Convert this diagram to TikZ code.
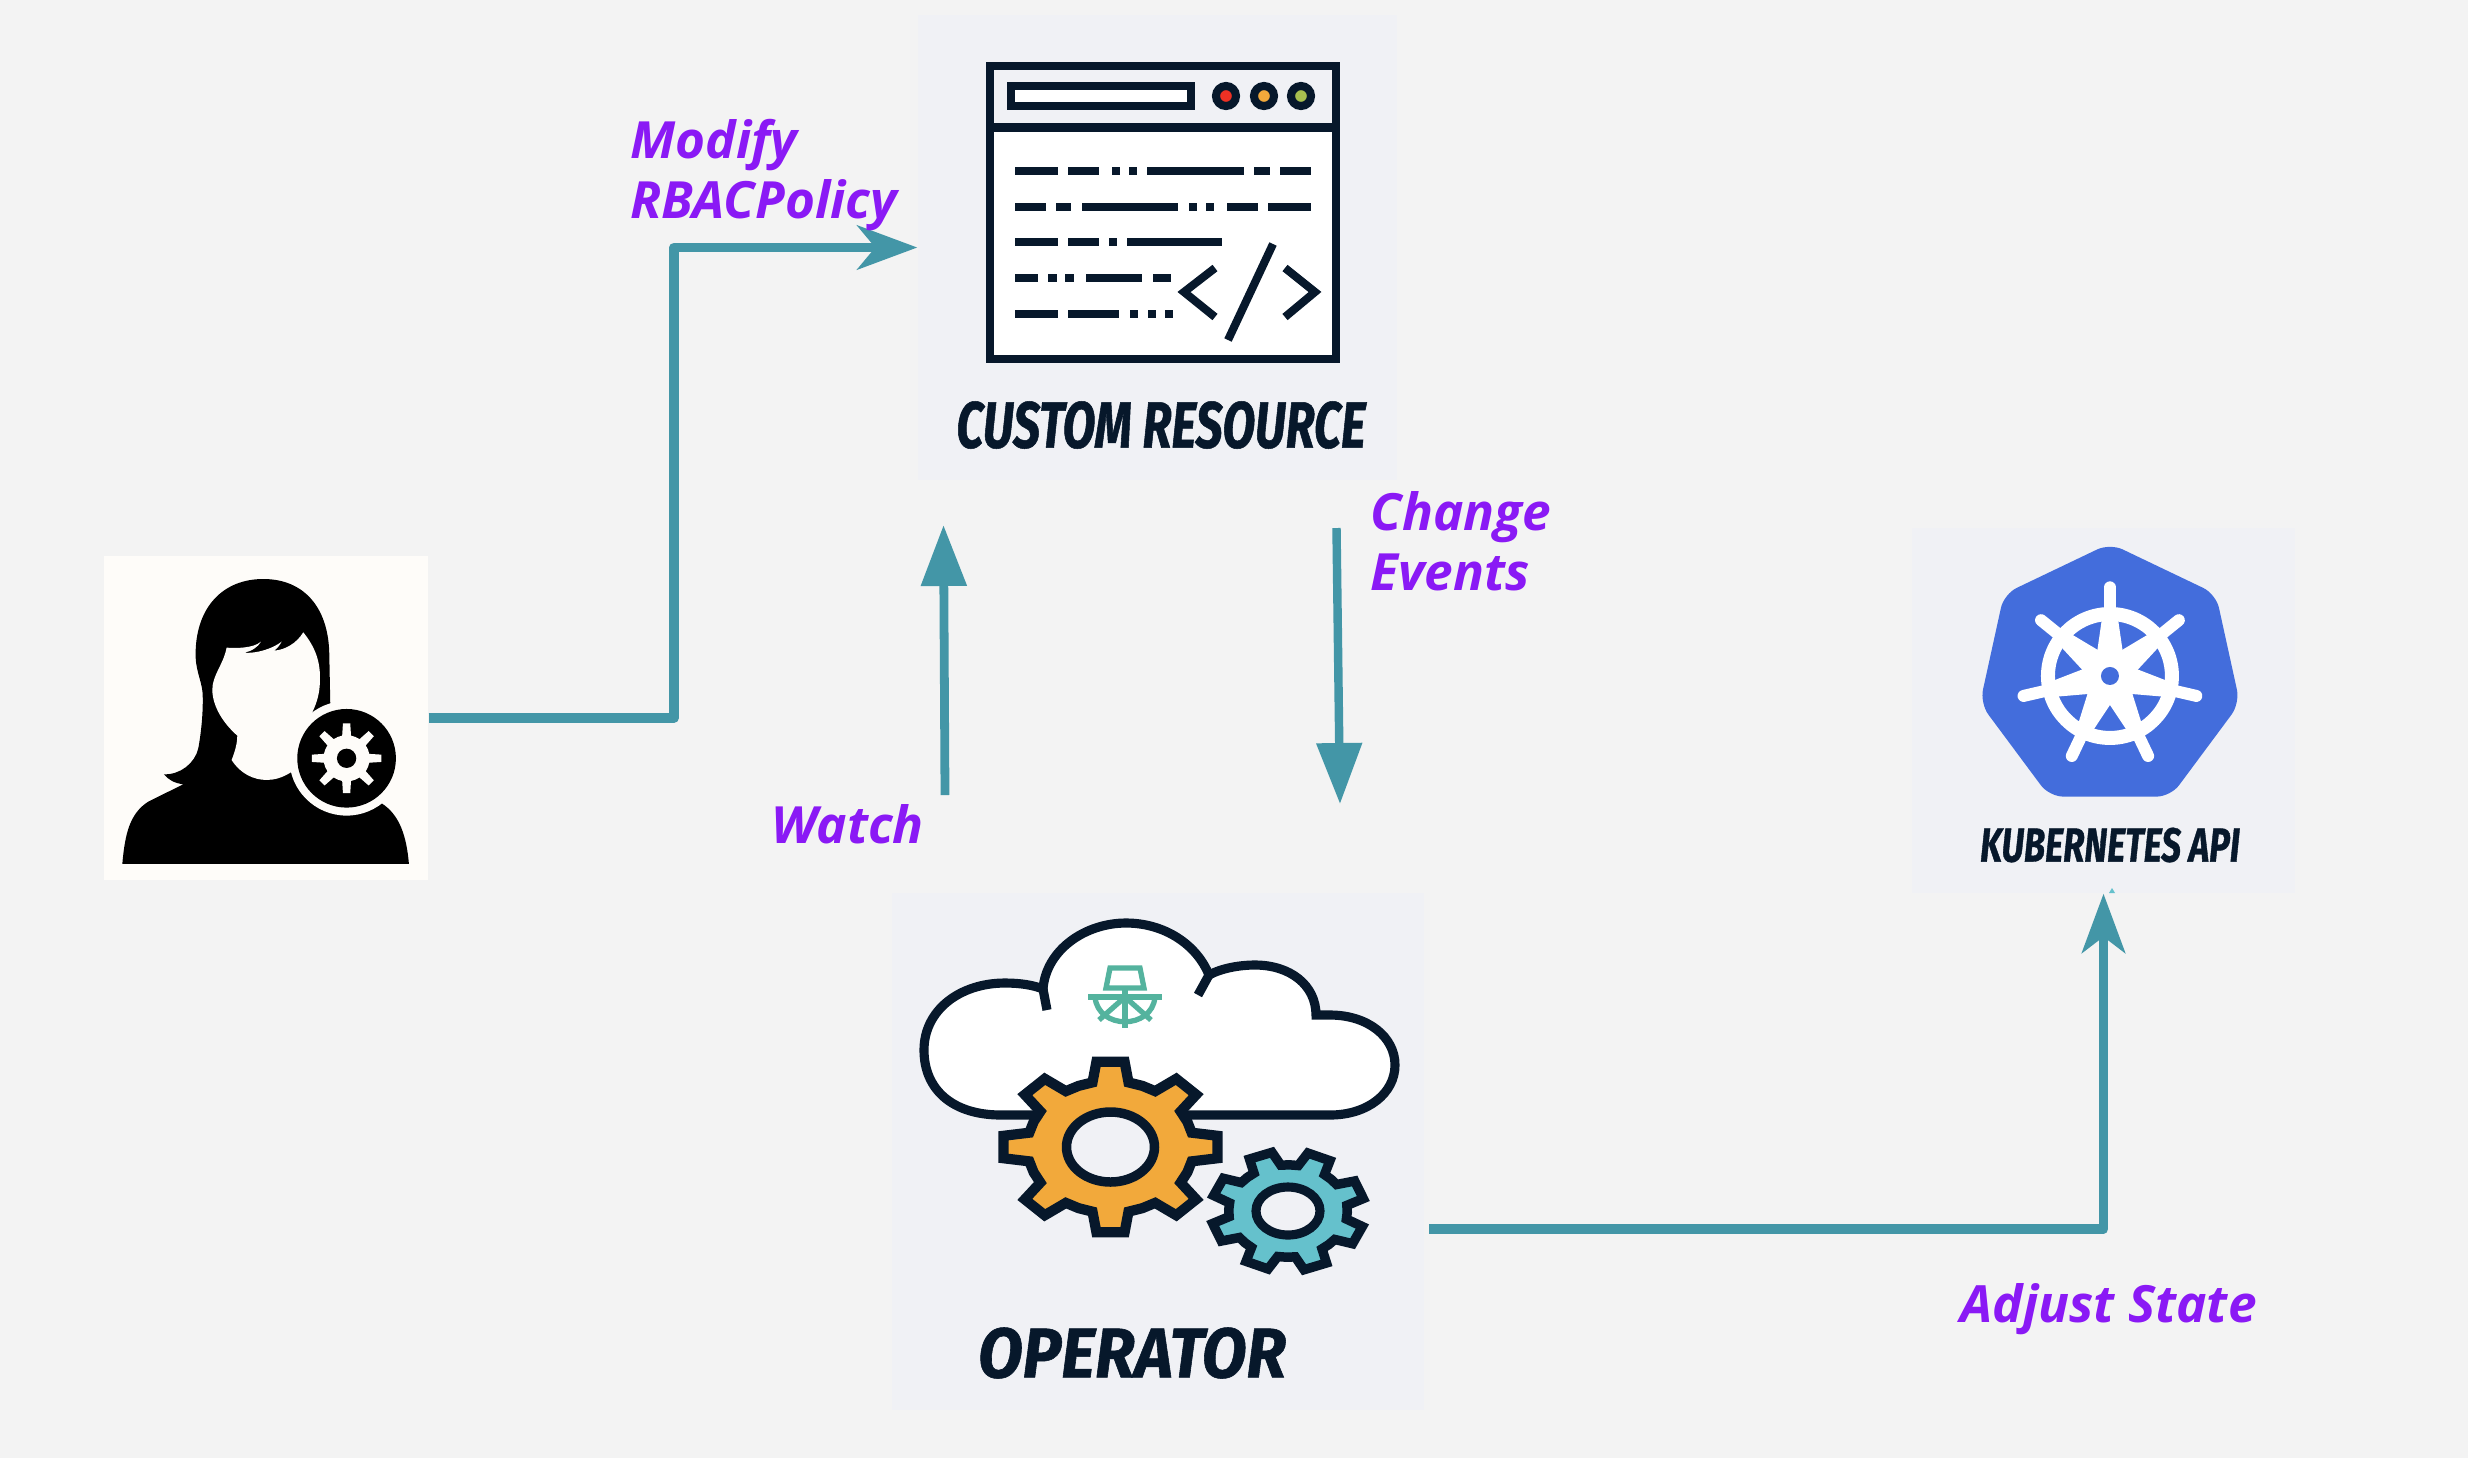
\documentclass[tikz,border=0pt]{standalone}
\usepackage{fontspec}
\usetikzlibrary{arrows.meta}
\newfontfamily\tagfont{Open Sans}
\newfontfamily\logofont[FakeStretch=0.73,FakeBold=0.8]{Fira Sans}
\newfontfamily\wideLogofont[FakeStretch=0.93,FakeBold=0.8]{Fira Sans}
\definecolor{bggray}{HTML}{F3F3F3}
\definecolor{panelgray}{HTML}{F0F1F5}
\definecolor{usercream}{HTML}{FEFCF9}
\definecolor{flowteal}{HTML}{4396A7}
\definecolor{tagpurple}{HTML}{8A19F5}
\definecolor{inknavy}{HTML}{07182B}
\definecolor{cogorange}{HTML}{F2A93B}
\definecolor{cogteal}{HTML}{65C1CC}
\definecolor{helmgreen}{HTML}{54B39E}
\definecolor{kubeblue}{HTML}{436DDC}
\tikzset{
  panel/.style={fill=panelgray,inner sep=0pt},
  flow/.style={draw=flowteal,line width=2.7pt,line join=round},
  tagtext/.style={text=tagpurple,inner sep=0pt,align=left,anchor=north west,
    font=\tagfont\bfseries\itshape\fontsize{14.6}{17}\selectfont},
  logotext/.style={text=inknavy,inner sep=0pt,font=\logofont\bfseries\itshape},
  ink/.style={draw=inknavy,line width=2.3pt},
  codebar/.style={draw=inknavy,line width=2.45pt}
}
% centre, x radius, y radius, first tooth, root ratio, half tooth
\newcommand{\cog}[7]{
  \pgfmathsetmacro\cogrx{#3*#6}
  \pgfmathsetmacro\cogry{#4*#6}
  \path[#1,shift={#2}] (#5-#7:#3 and #4)
    \foreach \tooth in {0,...,7} {
      -- (\tooth*45+#5+#7:#3 and #4)
      -- (\tooth*45+#5+#7+5:{\cogrx} and {\cogry})
      -- (\tooth*45+#5+22.5:{\cogrx} and {\cogry})
      -- (\tooth*45+#5+45-#7-5:{\cogrx} and {\cogry})
      -- (\tooth*45+#5+45-#7:#3 and #4)
    } -- cycle;
}
\begin{document}
\begin{tikzpicture}[x=0.1mm,y=-0.1mm]
\path[use as bounding box,fill=bggray] (0,0) rectangle (2468,1458);

\node[panel,fill=usercream,minimum width=32.4mm,minimum height=32.4mm] (user) at (266,718) {};
\node[panel,minimum width=47.9mm,minimum height=46.5mm] (resource) at (1157.5,247.5) {};
\node[panel,minimum width=53.2mm,minimum height=51.7mm] (operator) at (1158,1151.5) {};
\node[panel,minimum width=38.3mm,minimum height=36.5mm] (kube) at (2103.5,710.5) {};

% user
\begin{scope}[shift={(90,540)},x=0.03333mm,y=-0.03333mm]
\fill[black] (97,972) .. controls (105,880) and (120,820) .. (175,785) -- (280,733)
  .. controls (255,730) and (235,720) .. (222,703)
  .. controls (270,705) and (315,670) .. (325,625)
  .. controls (335,570) and (340,510) .. (338,460)
  .. controls (335,420) and (315,390) .. (317,335)
  .. controls (320,200) and (400,117) .. (520,117)
  .. controls (640,117) and (715,200) .. (718,340)
  -- (721,490) -- (770,655) -- (875,790)
  .. controls (930,825) and (950,890) .. (957,972) -- cycle;
\fill[usercream] (410,323) .. controls (440,325) and (490,325) .. (513,305)
  .. controls (505,320) and (485,335) .. (460,338)
  .. controls (500,342) and (550,325) .. (575,305)
  .. controls (570,315) and (560,328) .. (552,332)
  .. controls (585,330) and (620,310) .. (640,277)
  .. controls (675,320) and (692,365) .. (690,420)
  .. controls (690,460) and (680,490) .. (667,517)
  -- (700,600) -- (603,697)
  .. controls (575,715) and (550,720) .. (530,720)
  .. controls (490,720) and (450,700) .. (425,660)
  .. controls (435,635) and (442,610) .. (442,587)
  .. controls (400,550) and (368,500) .. (367,450)
  .. controls (367,405) and (400,375) .. (410,323) -- cycle;
\fill[usercream] (770,655) circle (172);
\fill[black] (770,655) circle (148);
\cog{fill=usercream}{(770,655)}{105}{105}{0}{0.66}{6}
\fill[black] (770,655) circle (29);
\end{scope}

% custom resource window
\fill[white] (990,66) rectangle (1336,359);
\fill[panelgray] (990,66) rectangle (1336,127.5);
\draw[ink] (990,66) rectangle (1336,359) (990,127.5) -- (1336,127.5);
\draw[ink,fill=white] (1011,86) rectangle (1191,106);
\foreach \xpos/\dotcolor in {1226/EE3124,1264/F2A93B,1301/A8BF4F} {
  \definecolor{dotfill}{HTML}{\dotcolor}
  \draw[ink,fill=dotfill] (\xpos,96) circle (10);
}
\foreach \ypos/\segs in {
  171/{1015/1058,1068/1099,1112/1120,1129/1137,1147/1244,1254/1270,1280/1311},
  207/{1015/1046,1056/1071,1082/1178,1189/1197,1206/1214,1227/1258,1268/1311},
  242/{1015/1058,1068/1099,1109/1117,1127/1222},
  278/{1015/1038,1048/1057,1065/1074,1086/1142,1153/1171},
  314/{1015/1058,1068/1119,1130/1138,1148/1156,1165/1173}} {
  \foreach \xa/\xb in \segs
    \draw[codebar] (\xa,\ypos) -- (\xb,\ypos);
}
\draw[ink] (1215,268) -- (1184,292) -- (1215,317);
\draw[ink] (1285,268) -- (1315,292) -- (1285,317);
\draw[ink] (1273,244) -- (1228,340);
\node[logotext,font=\logofont\bfseries\itshape\fontsize{18.6}{20}\selectfont] (resourcename) at (1161,425) {CUSTOM RESOURCE};

% operator
\draw[draw=inknavy,line width=2.6pt,fill=white] (1001,1115)
  .. controls (953,1115) and (924,1090) .. (924,1050)
  .. controls (924,1010) and (960,983) .. (1005,983)
  .. controls (1020,983) and (1033,985) .. (1043,989)
  .. controls (1046,950) and (1085,923) .. (1126,923)
  .. controls (1165,923) and (1197,945) .. (1209,975)
  .. controls (1222,968) and (1240,965) .. (1255,965)
  .. controls (1290,965) and (1316,985) .. (1316,1015) -- (1330,1015)
  .. controls (1368,1015) and (1395,1037) .. (1395,1065)
  .. controls (1395,1093) and (1368,1115) .. (1330,1115) -- cycle;
\draw[draw=inknavy,line width=2.6pt] (1043,989) -- (1047,1010) (1209,975) -- (1198,995);
% helm
\begin{scope}[draw=helmgreen,line width=1.5pt]
\draw (1110,968) -- (1140,968) -- (1144,988) -- (1106,988) -- cycle;
\draw (1088,997) -- (1162,997) (1125,989) -- (1125,1028);
\draw (1095,997) .. controls (1098,1030) and (1152,1030) .. (1155,997);
\draw (1125,997) -- (1099,1020) (1125,997) -- (1151,1020);
\end{scope}
% gears
\cog{draw=inknavy,line width=2.9pt,fill=cogorange}{(1110.5,1147)}{108}{86}{0}{0.77}{7.5}
\draw[draw=inknavy,line width=2.7pt,fill=panelgray] (1110.5,1147) ellipse (44 and 35);
\cog{draw=inknavy,line width=2.7pt,fill=cogteal}{(1288,1211)}{77}{60}{24}{0.77}{9}
\draw[draw=inknavy,line width=2.6pt,fill=panelgray] (1288,1211) ellipse (32 and 24);
\node[logotext,font=\wideLogofont\bfseries\itshape\fontsize{20}{22}\selectfont] (operatorname) at (1132,1353) {OPERATOR};

% kubernetes
\begin{scope}[shift={(1900,520)},x=0.03333mm,y=-0.03333mm]
\fill[kubeblue,rounded corners=1.4mm] (630,70) -- (948,222) -- (1020,550) -- (812,830)
  -- (448,830) -- (240,550) -- (312,222) -- cycle;
\draw[white,line width=1.4mm] (630,468) circle (186);
\fill[white] (630,468) circle (80);
\foreach \ang in {-90,-39,13,64.5,115.5,167,-141} {
  \fill[white,shift={(630,468)}] (\ang-29:80) -- (\ang-7.5:179) -- (\ang+7.5:179) -- (\ang+29:80) -- cycle;
  \draw[white,line width=1.2mm,line cap=round,shift={(630,468)}] (\ang:190) -- (\ang:266);
}
\fill[kubeblue] (630,468) circle (27);
\end{scope}
\node[logotext,font=\logofont\bfseries\itshape\fontsize{13.6}{15}\selectfont] (kubename) at (2110,845) {KUBERNETES API};

% connectors
\coordinate (modifybend) at (674,718);
\coordinate (watchfoot) at (945,795);
\coordinate (watchtip) at (943.5,525);
\coordinate (changetop) at (1336.5,528);
\coordinate (changetip) at (1340,804);
\coordinate (adjustfoot) at (1429,1229);
\coordinate (adjustbend) at (2103.5,1229);
\draw[flow,-{Stealth[length=6mm,width=4.4mm,inset=1.8mm]}] (user.east) -- (modifybend) |- (resource.west);
\draw[flow,line width=2.5pt,-{Triangle[length=6.1mm,width=4.4mm]}] (watchfoot) -- (watchtip);
\draw[flow,line width=2.4pt,-{Triangle[length=6.1mm,width=4.4mm]}] (changetop) -- (changetip);
\draw[flow,-{Stealth[length=5.9mm,width=4.3mm,inset=1.6mm]}] (adjustfoot) -- (adjustbend) -- (kube.south);
\fill[cogteal] (2109,893) -- (2112,888) -- (2115,893) -- cycle;

% labels
\node[tagtext] (modifytag) at (630,119) {Modify\\RBACPolicy};
\node[tagtext] (changetag) at (1370,491) {Change\\Events};
\node[tagtext] (watchtag) at (771,804) {Watch};
\node[tagtext] (adjusttag) at (1960,1283) {Adjust State};
\end{tikzpicture}
\end{document}
